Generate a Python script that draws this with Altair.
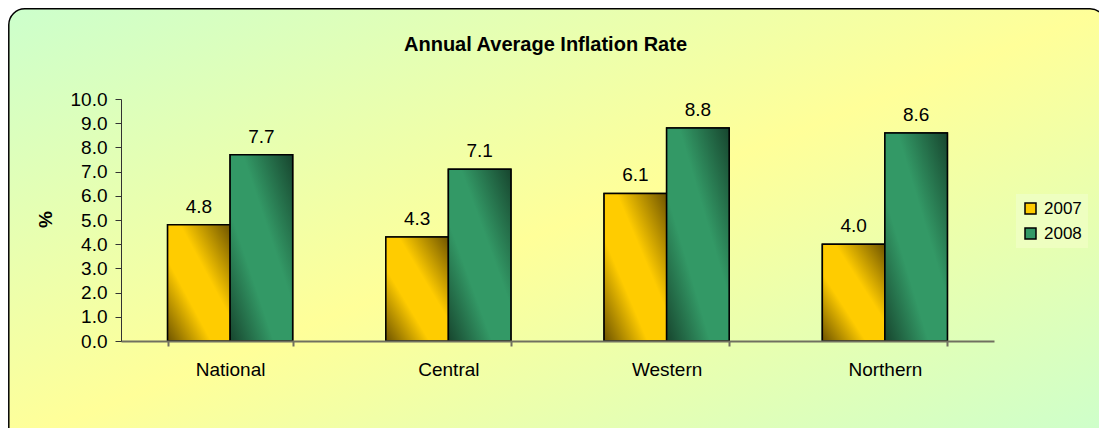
import altair as alt
import pandas as pd

regions = ["National", "Central", "Western", "Northern"]
years = ["2007", "2008"]
rate_2007 = [4.8, 4.3, 6.1, 4.0]
rate_2008 = [7.7, 7.1, 8.8, 8.6]
y_ticks = [0, 1, 2, 3, 4, 5, 6, 7, 8, 9, 10]

rows = []
for r, a, b in zip(regions, rate_2007, rate_2008):
    rows.append({"region": r, "year": "2007", "rate": a})
    rows.append({"region": r, "year": "2008", "rate": b})
df = pd.DataFrame(rows)

FONT = "Liberation Sans"
solid = ["#FFCC00", "#339966"]


def grad(dark, bright):
    return {
        "gradient": "linear",
        "x1": 0, "y1": 1, "x2": 1, "y2": 0,
        "stops": [
            {"offset": 0, "color": dark},
            {"offset": 0.35, "color": bright},
            {"offset": 0.6, "color": bright},
            {"offset": 1, "color": dark},
        ],
    }


bg_grad = {
    "gradient": "linear",
    "x1": 0, "y1": 0, "x2": 1, "y2": 1,
    "stops": [
        {"offset": 0, "color": "#CCFFCC"},
        {"offset": 0.5, "color": "#FFFF99"},
        {"offset": 1, "color": "#CCFFCC"},
    ],
}

x_enc = alt.X(
    "region:N", sort=regions, title=None,
    scale=alt.Scale(paddingInner=0.427, paddingOuter=0.2135),
    axis=alt.Axis(labelAngle=0, labelFontSize=19, labelFont=FONT, labelColor="black",
                  tickBand="extent", tickSize=5, tickColor="#707060", tickWidth=2,
                  domainColor="#707060", domainWidth=2, labelPadding=14, zindex=1),
)
xo_enc = alt.XOffset("year:N", sort=years, scale=alt.Scale(paddingInner=0, paddingOuter=0))
y_enc = alt.Y(
    "rate:Q", scale=alt.Scale(domain=[0, 10], nice=False),
    axis=alt.Axis(values=y_ticks, format=".1f", grid=False, labelFontSize=19, labelFont=FONT,
                  labelColor="black", tickSize=6, tickColor="#333333", domainColor="#333333",
                  labelPadding=8, title="%", titleFont=FONT, titleFontSize=19,
                  titleFontWeight="bold", titleAngle=270, titleX=-76, titleY=120,
                  titleAlign="center", titleBaseline="middle", titleColor="black", zindex=1),
)

base = alt.Chart(df)

bg = alt.Chart(pd.DataFrame({"k": [0]})).mark_rect(
    fill=bg_grad, stroke="black", strokeWidth=1.5, cornerRadius=16
).encode(x=alt.value(-112.2), x2=alt.value(985), y=alt.value(-90.2), y2=alt.value(345))

bars = base.mark_bar(stroke="black", strokeWidth=1.5).encode(
    x=x_enc, xOffset=xo_enc, y=y_enc,
    color=alt.Color("year:N", sort=years,
                    scale=alt.Scale(domain=years, range=solid),
                    legend=alt.Legend(title=None, orient="none", legendX=895, legendY=95,
                                      fillColor="#EEFFC0", padding=6, symbolType="square",
                                      symbolSize=121, symbolStrokeColor="black",
                                      symbolStrokeWidth=1.5, labelFontSize=17, labelFont=FONT,
                                      labelColor="black", rowPadding=7, labelOffset=5)),
)

g07 = base.transform_filter(alt.datum.year == "2007").mark_bar(
    fill=grad("#6E5400", "#FFCC00"), stroke="black", strokeWidth=1.5
).encode(x=x_enc, xOffset=xo_enc, y=y_enc)

g08 = base.transform_filter(alt.datum.year == "2008").mark_bar(
    fill=grad("#17452E", "#339966"), stroke="black", strokeWidth=1.5
).encode(x=x_enc, xOffset=xo_enc, y=y_enc)

labels = base.mark_text(baseline="alphabetic", dy=-12, fontSize=19, font=FONT, color="black").encode(
    x=x_enc, xOffset=xo_enc, y=y_enc, text=alt.Text("rate:Q", format=".1f")
)

chart = alt.layer(bg, bars, g07, g08, labels).properties(
    width=873, height=242,
    autosize=alt.AutoSizeParams(type="none"),
    padding={"left": 113, "top": 91, "right": 105, "bottom": 87},
    title=alt.TitleParams("Annual Average Inflation Rate", fontSize=20, font=FONT,
                          fontWeight="bold", anchor="middle", frame="group", dx=-12,
                          offset=-47, color="black", zindex=1),
    background="white",
).configure_view(stroke=None)

chart.save("out.html", embed_options={"renderer": "svg", "actions": False})
